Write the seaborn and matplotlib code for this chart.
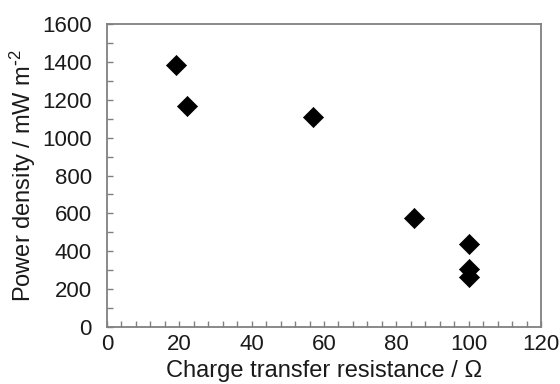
import matplotlib
matplotlib.use("Agg")
import matplotlib.pyplot as plt
import seaborn as sns
import pandas as pd
from matplotlib.ticker import MultipleLocator

# values
resistance = [19, 22, 57, 85, 100, 100, 100]
power_density = [1385, 1165, 1110, 575, 440, 305, 265]

sns.set_style("white")
plt.rcParams['font.family'] = ['Liberation Sans', 'DejaVu Sans']
plt.rcParams['mathtext.default'] = 'regular'

data = pd.DataFrame({"rct": resistance, "pd": power_density})

fig = plt.figure(figsize=(5.6, 3.84), dpi=100)
ax = fig.add_axes([107 / 560, 1 - 327 / 384, (541 - 107) / 560, (327 - 24) / 384])

sns.scatterplot(data=data, x="rct", y="pd", marker="D", s=105, color="black",
                edgecolor="black", linewidth=0.5, ax=ax, zorder=3)

ax.set_xlim(0, 120)
ax.set_ylim(0, 1600)
ax.xaxis.set_major_locator(MultipleLocator(20))
ax.xaxis.set_minor_locator(MultipleLocator(4))
ax.yaxis.set_major_locator(MultipleLocator(200))
ax.yaxis.set_minor_locator(MultipleLocator(100))

for s in ax.spines.values():
    s.set_color("#808080")
    s.set_linewidth(1.3)

ax.tick_params(which="both", direction="in", color="#808080", width=1,
               labelsize=16, labelcolor="#1a1a1a")
ax.tick_params(which="both", length=4)
ax.tick_params(axis="x", which="both", bottom=True, top=False, pad=5)
ax.tick_params(axis="y", which="both", left=True, right=False, pad=11)

ax.set_xlabel("Charge transfer resistance / \u03a9", fontsize=17, color="#1a1a1a", labelpad=4)
ax.set_ylabel("Power density / mW m$^{\\text{-}2}$", fontsize=17, color="#1a1a1a", labelpad=3)

fig.savefig("out.png", dpi=100)
